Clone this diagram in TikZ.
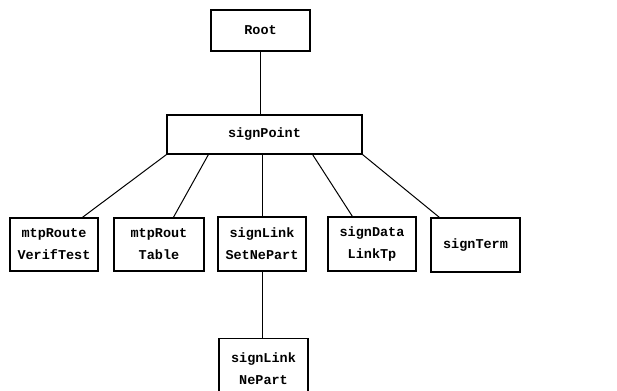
\documentclass[tikz,border=0pt]{standalone}
\usepackage{fontspec}
\setmonofont{Liberation Mono}
\begin{document}
\begin{tikzpicture}[x=1pt,y=-1pt,
  box/.style={draw,line width=1.2pt,rectangle,inner sep=0pt,align=center,
    font=\ttfamily\bfseries\fontsize{13.5}{22}\selectfont},
  conn/.style={line width=1pt}]
\useasboundingbox (0,0) rectangle (617,390);
\clip (0,0) rectangle (617,390);
\node[box,minimum width=99pt,minimum height=41pt] (root) at (260.5,30.5) {Root};
\node[box,minimum width=195pt,minimum height=39pt] (sp) at (264.5,134.5) {signPoint};
\node[box,minimum width=88pt,minimum height=53pt] (m1) at (54,244.5) {mtpRoute\\VerifTest};
\node[box,minimum width=90pt,minimum height=53pt] (m2) at (159,244.5) {mtpRout\\Table};
\node[box,minimum width=88pt,minimum height=54pt] (sl) at (262,244) {signLink\\SetNePart};
\node[box,minimum width=88pt,minimum height=54pt] (sd) at (372,244) {signData\\LinkTp};
\node[box,minimum width=89pt,minimum height=54pt] (st) at (475.5,245) {signTerm};
\node[box,minimum width=89pt,minimum height=60pt,anchor=north] (np) at (263.5,338) {signLink\\NePart};
\draw[conn] (root.south) -- (root.south |- sp.north);
\draw[conn] (sp.south west) -- ([xshift=73pt]m1.north west);
\draw[conn] ([xshift=42pt]sp.south west) -- ([xshift=60pt]m2.north west);
\draw[conn] (sp.south -| sl.north) -- (sl.north);
\draw[conn] ([xshift=-50pt]sp.south east) -- ([xshift=25pt]sd.north west);
\draw[conn] (sp.south east) -- ([xshift=9pt]st.north west);
\draw[conn] (sl.south) -- (sl.south |- np.north);
\end{tikzpicture}
\end{document}
